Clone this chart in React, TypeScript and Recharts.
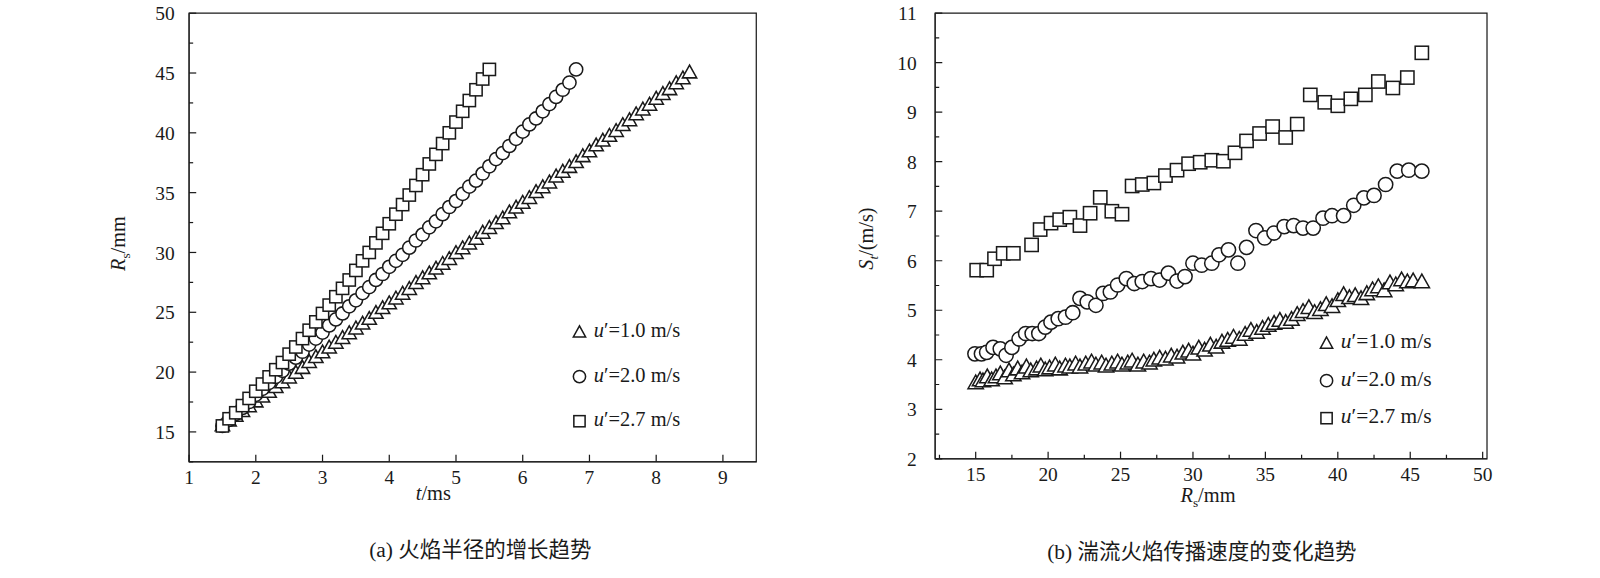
import React from "react";
import { ScatterChart, Scatter, XAxis, YAxis, ReferenceArea } from "recharts";

// ---- Chart (a): flame radius vs time ----
const tTri = [1.5,1.6,1.7,1.8,1.9,2.0,2.1,2.2,2.3,2.4,2.5,2.6,2.7,2.8,2.9,3.0,3.1,3.2,3.3,3.4,3.5,3.6,3.7,3.8,3.9,4.0,4.1,4.2,4.3,4.4,4.5,4.6,4.7,4.8,4.9,5.0,5.1,5.2,5.3,5.4,5.5,5.6,5.7,5.8,5.9,6.0,6.1,6.2,6.3,6.4,6.5,6.6,6.7,6.8,6.9,7.0,7.1,7.2,7.3,7.4,7.5,7.6,7.7,7.8,7.9,8.0,8.1,8.2,8.3,8.4,8.5];
const rTri = [15.5,15.9,16.3,16.7,17.1,17.5,17.9,18.3,18.7,19.1,19.5,19.9,20.3,20.8,21.2,21.6,22.0,22.4,22.8,23.2,23.6,24.0,24.4,24.9,25.3,25.7,26.1,26.5,26.9,27.4,27.8,28.2,28.6,29.0,29.4,29.9,30.3,30.7,31.1,31.6,32.0,32.4,32.8,33.3,33.7,34.1,34.5,35.0,35.4,35.8,36.3,36.7,37.1,37.5,38.0,38.4,38.9,39.3,39.7,40.1,40.6,41.0,41.5,41.9,42.3,42.8,43.2,43.6,44.1,44.5,45.0];
const tCir = [1.5,1.6,1.7,1.8,1.9,2.0,2.1,2.2,2.3,2.4,2.5,2.6,2.7,2.8,2.9,3.0,3.1,3.2,3.3,3.4,3.5,3.6,3.7,3.8,3.9,4.0,4.1,4.2,4.3,4.4,4.5,4.6,4.7,4.8,4.9,5.0,5.1,5.2,5.3,5.4,5.5,5.6,5.7,5.8,5.9,6.0,6.1,6.2,6.3,6.4,6.5,6.6,6.7,6.8];
const rCir = [15.5,16.0,16.5,17.0,17.5,18.1,18.6,19.1,19.6,20.1,20.7,21.2,21.7,22.3,22.8,23.3,23.9,24.4,24.9,25.5,26.0,26.6,27.1,27.7,28.2,28.8,29.3,29.8,30.4,31.0,31.5,32.1,32.6,33.2,33.8,34.3,34.9,35.5,36.0,36.6,37.2,37.8,38.3,38.9,39.5,40.1,40.7,41.2,41.8,42.4,43.0,43.6,44.2,45.3];
const tSq = [1.5,1.6,1.7,1.8,1.9,2.0,2.1,2.2,2.3,2.4,2.5,2.6,2.7,2.8,2.9,3.0,3.1,3.2,3.3,3.4,3.5,3.6,3.7,3.8,3.9,4.0,4.1,4.2,4.3,4.4,4.5,4.6,4.7,4.8,4.9,5.0,5.1,5.2,5.3,5.4,5.5];
const rSq = [15.5,16.1,16.6,17.2,17.8,18.4,19.0,19.6,20.2,20.8,21.5,22.1,22.8,23.5,24.2,24.9,25.6,26.3,27.0,27.7,28.5,29.3,30.0,30.8,31.6,32.4,33.2,34.0,34.8,35.6,36.5,37.4,38.2,39.1,40.0,40.9,41.8,42.7,43.6,44.5,45.3];
const aXTicks = [1,2,3,4,5,6,7,8,9];
const aYTicks = [12.5,15,17.5,20,22.5,25,27.5,30,32.5,35,37.5,40,42.5,45,47.5,50];

// ---- Chart (b): turbulent flame speed vs radius ----
const xTriB = [15.0,15.3,15.5,15.8,16.1,16.4,16.7,17.0,17.3,17.6,17.9,18.2,18.5,18.8,19.2,19.5,19.8,20.1,20.5,20.8,21.2,21.5,21.9,22.2,22.6,23.0,23.3,23.7,24.0,24.4,24.8,25.1,25.5,25.8,26.2,26.6,27.0,27.3,27.7,28.1,28.5,28.9,29.3,29.7,30.0,30.4,30.8,31.2,31.6,32.0,32.4,32.8,33.2,33.6,34.0,34.4,34.8,35.2,35.6,36.0,36.4,36.8,37.2,37.6,38.0,38.4,38.8,39.2,39.6,40.0,40.4,40.8,41.2,41.6,42.0,42.4,42.8,43.2,43.6,44.0,44.4,44.8,45.2,45.8];
const sTriB = [3.52,3.58,3.56,3.64,3.58,3.64,3.70,3.62,3.76,3.68,3.80,3.72,3.84,3.76,3.80,3.86,3.78,3.82,3.88,3.80,3.86,3.84,3.90,3.84,3.90,3.94,3.88,3.92,3.86,3.90,3.94,3.88,3.92,3.96,3.88,3.94,3.92,3.98,4.02,4.00,4.06,4.04,4.12,4.16,4.10,4.22,4.18,4.28,4.24,4.34,4.38,4.44,4.40,4.50,4.58,4.54,4.62,4.68,4.72,4.78,4.74,4.80,4.90,4.96,5.04,4.94,5.00,5.10,5.06,5.18,5.30,5.24,5.28,5.22,5.32,5.40,5.46,5.38,5.54,5.50,5.60,5.56,5.58,5.56];
const xCirB = [14.95,15.4,15.76,16.2,16.7,17.1,17.5,18.0,18.45,18.9,19.36,19.8,20.2,20.7,21.2,21.7,22.2,22.7,23.3,23.8,24.3,24.8,25.4,25.95,26.5,27.1,27.7,28.3,28.9,29.45,30.0,30.6,31.3,31.8,32.45,33.1,33.7,34.35,34.95,35.6,36.3,36.95,37.6,38.3,38.98,39.6,40.4,41.1,41.8,42.5,43.3,44.1,44.9,45.8];
const sCirB = [4.12,4.12,4.15,4.25,4.22,4.09,4.25,4.42,4.53,4.53,4.53,4.66,4.76,4.83,4.86,4.95,5.24,5.17,5.10,5.34,5.37,5.51,5.64,5.54,5.58,5.64,5.61,5.75,5.59,5.68,5.95,5.91,5.95,6.12,6.22,5.95,6.27,6.61,6.46,6.56,6.69,6.71,6.66,6.66,6.86,6.91,6.91,7.12,7.27,7.32,7.54,7.81,7.83,7.81];
const xSqB = [15.07,15.76,16.3,16.9,17.6,18.86,19.45,20.2,20.8,21.5,22.2,22.9,23.6,24.4,25.1,25.8,26.5,27.3,28.1,28.9,29.7,30.5,31.3,32.1,32.9,33.7,34.6,35.5,36.4,37.2,38.1,39.1,40.0,40.9,41.9,42.8,43.8,44.8,45.8];
const sSqB = [5.81,5.81,6.04,6.15,6.15,6.32,6.63,6.76,6.83,6.88,6.71,6.96,7.28,7.0,6.94,7.51,7.54,7.57,7.72,7.83,7.96,7.99,8.03,8.01,8.18,8.42,8.57,8.71,8.49,8.76,9.35,9.2,9.13,9.27,9.35,9.62,9.49,9.70,10.2];
const bXTicks = [12.5,15,17.5,20,22.5,25,27.5,30,32.5,35,37.5,40,42.5,45,47.5,50];
const bYTicks = [2,2.5,3,3.5,4,4.5,5,5.5,6,6.5,7,7.5,8,8.5,9,9.5,10,10.5,11];

const legendLabels = ["1.0", "2.0", "2.7"];

const zip = (xs: number[], ys: number[]) => xs.map((x, i) => ({ x, y: ys[i] }));

const FONT = "'Liberation Serif', 'Times New Roman', serif";
const CJK = "'Liberation Serif', 'Noto Sans CJK SC', serif";
const INK = "#1a1a1a";

const mk = (kind: string, s: number) => (p: any) => {
  const { cx, cy } = p;
  if (cx == null || cy == null) return <g />;
  if (kind === "tri") {
    const h = s * 0.9;
    return <polygon points={`${cx},${cy - h * 0.62} ${cx - s / 2},${cy + h * 0.38} ${cx + s / 2},${cy + h * 0.38}`} fill="#fff" stroke={INK} strokeWidth={1.5} />;
  }
  if (kind === "cir") return <circle cx={cx} cy={cy} r={s / 2} fill="#fff" stroke={INK} strokeWidth={1.5} />;
  return <rect x={cx - s / 2} y={cy - s / 2} width={s} height={s} fill="#fff" stroke={INK} strokeWidth={1.5} />;
};

const isMajor = (v: number, step: number) => Math.abs(v / step - Math.round(v / step)) < 1e-6;

const BottomTick = (step: number) => (p: any) => {
  const { x, y, payload } = p;
  const v = payload.value;
  const maj = isMajor(v, step);
  return (
    <g>
      <line x1={x} x2={x} y1={y} y2={y - (maj ? 7 : 4)} stroke={INK} strokeWidth={1.2} />
      {maj && <text x={x} y={y + 22} textAnchor="middle" fontFamily={FONT} fontSize={19} fill={INK}>{v}</text>}
    </g>
  );
};
const LeftTick = (step: number, gap: number) => (p: any) => {
  const { x, y, payload } = p;
  const v = payload.value;
  const maj = isMajor(v, step);
  return (
    <g>
      <line x1={x} x2={x + (maj ? 7 : 4)} y1={y} y2={y} stroke={INK} strokeWidth={1.2} />
      {maj && <text x={x - gap} y={y + 7} textAnchor="end" fontFamily={FONT} fontSize={19} fill={INK}>{v}</text>}
    </g>
  );
};

const LegendMark = ({ kind }: { kind: string }) => (
  <svg width={16} height={16} style={{ verticalAlign: "middle", marginRight: 6 }}>
    {kind === "tri" && <polygon points="8,2 2,13 14,13" fill="#fff" stroke={INK} strokeWidth={1.5} />}
    {kind === "cir" && <circle cx={8} cy={8} r={6} fill="#fff" stroke={INK} strokeWidth={1.5} />}
    {kind === "sq" && <rect x={2.5} y={2.5} width={11} height={11} fill="#fff" stroke={INK} strokeWidth={1.5} />}
  </svg>
);

const Legend = ({ left, top, gap, size }: { left: number; top: number; gap: number; size: number }) => (
  <div style={{ position: "absolute", left, top, fontFamily: FONT, fontSize: size, color: INK, lineHeight: 1 }}>
    {["tri", "cir", "sq"].map((k, i) => (
      <div key={k} style={{ position: "absolute", top: i * gap, whiteSpace: "nowrap" }}>
        <LegendMark kind={k} />
        <i>u</i>′={legendLabels[i]} m/s
      </div>
    ))}
  </div>
);

const abs = (left: number, top: number, extra: any = {}) => ({ position: "absolute" as const, left, top, ...extra });

export default function App() {
  return (
    <div style={{ position: "absolute", left: 0, top: 0, width: 1600, height: 578, background: "#fff", overflow: "hidden" }}>
      <div style={{ position: "absolute", left: 0, top: 0, width: 1600, height: 578, transform: "scale(1.022, 1.015)", transformOrigin: "0 0" }}>
        <div style={abs(0, 0)}>
          <ScatterChart width={760} height={570} margin={{ top: 13, right: 20, bottom: 85, left: 0 }}>
            <XAxis type="number" dataKey="x" domain={[1, 9.5]} ticks={aXTicks} tick={BottomTick(1)} tickSize={0} tickMargin={0} height={30} axisLine={{ stroke: INK }} allowDataOverflow />
            <YAxis type="number" dataKey="y" domain={[12.5, 50]} ticks={aYTicks} tick={LeftTick(5, 14)} tickSize={0} tickMargin={0} width={185} axisLine={{ stroke: INK }} allowDataOverflow />
            <ReferenceArea x1={1} x2={9.5} y1={12.5} y2={50} fill="none" stroke={INK} strokeWidth={1.2} ifOverflow="visible" />
            <Scatter data={zip(tTri, rTri)} shape={mk("tri", 14)} isAnimationActive={false} />
            <Scatter data={zip(tCir, rCir)} shape={mk("cir", 13)} isAnimationActive={false} />
            <Scatter data={zip(tSq, rSq)} shape={mk("sq", 12)} isAnimationActive={false} />
          </ScatterChart>
        </div>
        <div style={abs(760, 0)}>
          <ScatterChart width={840} height={570} margin={{ top: 13, right: 145, bottom: 88, left: 0 }}>
            <XAxis type="number" dataKey="x" domain={[12.2, 50.3]} ticks={bXTicks} tick={BottomTick(5)} tickSize={0} tickMargin={0} height={30} axisLine={{ stroke: INK }} allowDataOverflow />
            <YAxis type="number" dataKey="y" domain={[2, 11]} ticks={bYTicks} tick={LeftTick(1, 18)} tickSize={0} tickMargin={0} width={155} axisLine={{ stroke: INK }} allowDataOverflow />
            <ReferenceArea x1={12.2} x2={50.3} y1={2} y2={11} fill="none" stroke={INK} strokeWidth={1.2} ifOverflow="visible" />
            <Scatter data={zip(xTriB, sTriB)} shape={mk("tri", 15)} isAnimationActive={false} />
            <Scatter data={zip(xCirB, sCirB)} shape={mk("cir", 14)} isAnimationActive={false} />
            <Scatter data={zip(xSqB, sSqB)} shape={mk("sq", 13)} isAnimationActive={false} />
          </ScatterChart>
        </div>

        <Legend left={559} top={315} gap={44} size={20} />
        <Legend left={1290} top={326} gap={37} size={21} />

        <div style={abs(118, 240, { transform: "translate(-50%,-50%) rotate(-90deg)", fontFamily: FONT, fontSize: 20, whiteSpace: "nowrap", color: INK })}>
          <i>R</i><sub style={{ fontSize: 13 }}>s</sub>/mm
        </div>
        <div style={abs(424, 486, { transform: "translate(-50%,-50%)", fontFamily: FONT, fontSize: 20, whiteSpace: "nowrap", color: INK })}>
          <i>t</i>/ms
        </div>
        <div style={abs(850, 235, { transform: "translate(-50%,-50%) rotate(-90deg)", fontFamily: FONT, fontSize: 20, whiteSpace: "nowrap", color: INK })}>
          <i>S</i><sub style={{ fontSize: 13 }}><i>t</i></sub>/(m/s)
        </div>
        <div style={abs(1182, 490, { transform: "translate(-50%,-50%)", fontFamily: FONT, fontSize: 20, whiteSpace: "nowrap", color: INK })}>
          <i>R</i><sub style={{ fontSize: 13 }}>s</sub>/mm
        </div>

        <div style={abs(470, 540, { transform: "translate(-50%,-50%)", fontFamily: CJK, fontSize: 21, whiteSpace: "nowrap", color: INK })}>
          (a) 火焰半径的增长趋势
        </div>
        <div style={abs(1176, 542, { transform: "translate(-50%,-50%)", fontFamily: CJK, fontSize: 21, whiteSpace: "nowrap", color: INK })}>
          (b) 湍流火焰传播速度的变化趋势
        </div>
      </div>
    </div>
  );
}
